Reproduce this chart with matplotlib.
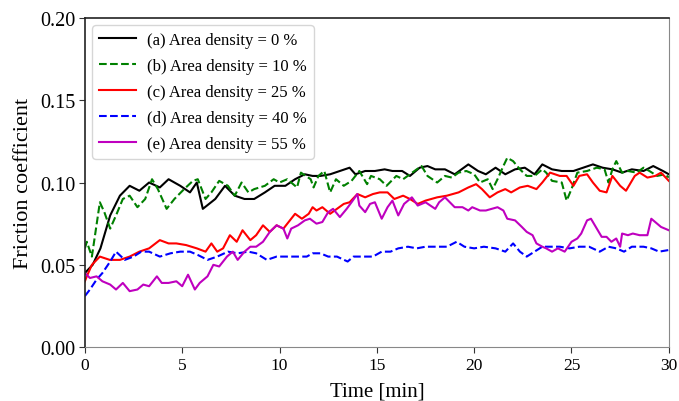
import matplotlib
matplotlib.use("Agg")
import matplotlib.pyplot as plt

# ── data (time [min], friction coefficient) ─────────────────────────────────
t_a = [0, 0.4, 0.8, 1.3, 1.8, 2.3, 2.8, 3.3, 3.85, 4.3, 4.9, 5.4, 5.75, 6.06,
       6.7, 7.2, 7.7, 8.2, 8.7, 9.25, 9.75, 10.3, 10.8, 11.3, 11.7, 12.1, 12.6,
       13.1, 13.6, 13.9, 14.4, 14.9, 15.4, 15.8, 16.3, 16.7, 17.2, 17.6, 18.0,
       18.5, 19.0, 19.7, 20.2, 20.6, 21.1, 21.6, 22.1, 22.6, 23.1, 23.5, 24.0,
       24.5, 25.1, 25.6, 26.1, 26.6, 27.1, 27.6, 28.1, 28.7, 29.2, 29.7, 30.0]
y_a = [0.045, 0.050, 0.060, 0.080, 0.092, 0.098, 0.095, 0.100, 0.097, 0.102,
       0.098, 0.094, 0.100, 0.084, 0.090, 0.098, 0.092, 0.090, 0.090, 0.094,
       0.098, 0.098, 0.102, 0.105, 0.104, 0.104, 0.105, 0.107, 0.109, 0.105,
       0.107, 0.107, 0.108, 0.107, 0.107, 0.104, 0.109, 0.110, 0.108, 0.108,
       0.105, 0.111, 0.107, 0.105, 0.109, 0.105, 0.108, 0.109, 0.105, 0.111,
       0.108, 0.107, 0.107, 0.109, 0.111, 0.109, 0.108, 0.106, 0.108, 0.107,
       0.110, 0.107, 0.105]

t_b = [0, 0.1, 0.36, 0.77, 1.0, 1.3, 1.6, 1.95, 2.3, 2.7, 3.1, 3.45, 3.75, 4.2,
       4.6, 5.1, 5.55, 5.8, 6.2, 6.5, 6.9, 7.35, 7.7, 8.05, 8.4, 8.7, 9.25, 9.7,
       10.0, 10.4, 10.9, 11.1, 11.6, 11.75, 12.0, 12.3, 12.6, 12.9, 13.3, 13.7,
       14.1, 14.5, 14.7, 15.15, 15.5, 16.0, 16.35, 16.7, 17.05, 17.3, 17.6,
       18.1, 18.5, 18.85, 19.2, 19.6, 20.0, 20.3, 20.7, 20.95, 21.2, 21.5, 21.7,
       22.0, 22.35, 22.7, 23.1, 23.5, 23.7, 24.0, 24.5, 24.75, 25.0, 25.3, 25.8,
       26.3, 26.7, 26.9, 27.1, 27.3, 27.6, 27.9, 28.35, 28.7, 29.0, 29.4, 29.8,
       30.0]
y_b = [0.060, 0.064, 0.055, 0.088, 0.082, 0.072, 0.080, 0.090, 0.092, 0.085,
       0.090, 0.102, 0.096, 0.084, 0.090, 0.096, 0.101, 0.102, 0.090, 0.094,
       0.101, 0.098, 0.092, 0.100, 0.094, 0.096, 0.098, 0.102, 0.100, 0.102,
       0.097, 0.106, 0.102, 0.097, 0.104, 0.107, 0.094, 0.102, 0.098, 0.101,
       0.107, 0.099, 0.104, 0.102, 0.098, 0.104, 0.102, 0.105, 0.108, 0.110,
       0.104, 0.100, 0.104, 0.103, 0.106, 0.107, 0.105, 0.100, 0.102, 0.096,
       0.102, 0.110, 0.115, 0.113, 0.108, 0.104, 0.104, 0.108, 0.106, 0.101,
       0.100, 0.089, 0.096, 0.106, 0.107, 0.109, 0.108, 0.100, 0.108, 0.113,
       0.106, 0.107, 0.106, 0.109, 0.107, 0.104, 0.105, 0.103]

t_c = [0, 0.1, 0.36, 0.77, 1.28, 1.8, 2.3, 2.8, 3.3, 3.85, 4.3, 4.7, 5.2, 5.75,
       6.2, 6.5, 6.8, 7.1, 7.45, 7.8, 8.1, 8.5, 8.8, 9.15, 9.5, 9.85, 10.2,
       10.4, 10.8, 11.15, 11.5, 11.7, 11.9, 12.2, 12.6, 12.95, 13.3, 13.6,
       14.0, 14.4, 14.8, 15.15, 15.55, 15.9, 16.35, 16.7, 17.1, 17.5, 18.1,
       18.6, 19.2, 19.7, 20.1, 20.4, 20.8, 21.2, 21.6, 21.9, 22.35, 22.75, 23.2,
       23.5, 23.9, 24.4, 24.75, 25.1, 25.4, 25.8, 26.1, 26.45, 26.8, 27.1, 27.5,
       27.8, 28.25, 28.5, 28.9, 29.3, 29.6, 30.0]
y_c = [0.040, 0.043, 0.050, 0.055, 0.053, 0.053, 0.055, 0.058, 0.060, 0.065,
       0.063, 0.063, 0.062, 0.060, 0.058, 0.063, 0.058, 0.060, 0.068, 0.064,
       0.071, 0.065, 0.068, 0.074, 0.070, 0.074, 0.072, 0.075, 0.081, 0.078,
       0.081, 0.085, 0.083, 0.085, 0.081, 0.084, 0.087, 0.088, 0.093, 0.091,
       0.093, 0.094, 0.094, 0.090, 0.092, 0.090, 0.087, 0.089, 0.091, 0.092,
       0.094, 0.097, 0.099, 0.096, 0.091, 0.094, 0.096, 0.094, 0.097, 0.098,
       0.096, 0.100, 0.106, 0.104, 0.104, 0.098, 0.104, 0.105, 0.100, 0.095,
       0.094, 0.104, 0.098, 0.095, 0.104, 0.106, 0.103, 0.104, 0.106, 0.101]

t_d = [0, 0.26, 0.6, 0.9, 1.3, 1.6, 2.05, 2.5, 2.9, 3.3, 3.85, 4.4, 4.9, 5.4,
       5.8, 6.3, 6.8, 7.35, 7.85, 8.4, 8.8, 9.35, 9.85, 10.4, 10.9, 11.4, 11.7,
       12.1, 12.5, 12.95, 13.5, 13.8, 14.3, 14.8, 15.25, 15.7, 16.1, 16.6,
       17.05, 17.5, 18.1, 18.6, 19.1, 19.5, 20.0, 20.5, 21.1, 21.6, 22.0, 22.35,
       22.7, 23.1, 23.5, 24.0, 24.4, 24.9, 25.4, 25.9, 26.45, 26.9, 27.3, 27.7,
       28.1, 28.7, 29.1, 29.5, 30.0]
y_d = [0.031, 0.035, 0.041, 0.045, 0.052, 0.058, 0.053, 0.055, 0.058, 0.058,
       0.055, 0.057, 0.058, 0.058, 0.056, 0.053, 0.055, 0.058, 0.057, 0.058,
       0.057, 0.053, 0.055, 0.055, 0.055, 0.055, 0.057, 0.057, 0.055, 0.055,
       0.052, 0.055, 0.055, 0.055, 0.058, 0.058, 0.060, 0.061, 0.060, 0.061,
       0.061, 0.061, 0.064, 0.061, 0.060, 0.061, 0.060, 0.058, 0.063, 0.058,
       0.055, 0.058, 0.061, 0.061, 0.061, 0.060, 0.061, 0.061, 0.058, 0.061,
       0.060, 0.058, 0.061, 0.061, 0.060, 0.058, 0.059]

t_e = [0, 0.26, 0.6, 0.9, 1.3, 1.6, 1.95, 2.3, 2.7, 3.0, 3.3, 3.7, 3.95, 4.3,
       4.7, 5.0, 5.3, 5.65, 5.9, 6.3, 6.6, 6.9, 7.3, 7.6, 7.85, 8.2, 8.5, 8.8,
       9.15, 9.5, 9.85, 10.2, 10.4, 10.6, 10.95, 11.3, 11.56, 11.9, 12.2, 12.5,
       12.75, 13.1, 13.45, 13.7, 14.0, 14.1, 14.4, 14.65, 14.9, 15.25, 15.55,
       15.8, 16.1, 16.4, 16.8, 17.1, 17.5, 18.0, 18.2, 18.5, 18.75, 19.0, 19.4,
       19.7, 19.9, 20.3, 20.6, 20.9, 21.2, 21.5, 21.7, 22.1, 22.45, 22.7, 23.0,
       23.2, 23.5, 23.7, 24.0, 24.3, 24.65, 25.0, 25.3, 25.5, 25.8, 26.0, 26.3,
       26.55, 26.8, 27.05, 27.3, 27.5, 27.6, 27.9, 28.15, 28.5, 28.9, 29.1,
       29.4, 29.6, 30.0]
y_e = [0.045, 0.042, 0.043, 0.040, 0.038, 0.035, 0.039, 0.034, 0.035, 0.038,
       0.037, 0.043, 0.039, 0.039, 0.040, 0.037, 0.044, 0.035, 0.039, 0.043,
       0.050, 0.049, 0.055, 0.058, 0.053, 0.058, 0.061, 0.061, 0.064, 0.070,
       0.074, 0.072, 0.066, 0.072, 0.074, 0.077, 0.078, 0.075, 0.076, 0.082,
       0.084, 0.079, 0.084, 0.088, 0.093, 0.086, 0.082, 0.087, 0.088, 0.078,
       0.085, 0.089, 0.080, 0.087, 0.091, 0.086, 0.088, 0.084, 0.088, 0.091,
       0.088, 0.085, 0.085, 0.083, 0.085, 0.083, 0.083, 0.084, 0.085, 0.083,
       0.078, 0.077, 0.073, 0.070, 0.068, 0.063, 0.061, 0.060, 0.058, 0.060,
       0.058, 0.064, 0.066, 0.069, 0.077, 0.078, 0.072, 0.067, 0.067, 0.064,
       0.066, 0.061, 0.069, 0.068, 0.069, 0.068, 0.068, 0.078, 0.075, 0.073,
       0.071]

labels = ["(a) Area density = 0 %", "(b) Area density = 10 %",
          "(c) Area density = 25 %", "(d) Area density = 40 %",
          "(e) Area density = 55 %"]
colors = ["black", "green", "red", "blue", "m"]
styles = ["-", "--", "-", "--", "-"]

x_ticks = [0, 5, 10, 15, 20, 25, 30]
y_ticks = [0.00, 0.05, 0.10, 0.15, 0.20]

# ── plot ────────────────────────────────────────────────────────────────────
plt.rcParams["font.family"] = ["Liberation Serif", "DejaVu Serif"]

fig = plt.figure(figsize=(6.79, 4.02), dpi=100)
ax = fig.add_axes([0.125, 0.134, 0.86, 0.819])

series = [(t_a, y_a), (t_b, y_b), (t_c, y_c), (t_d, y_d), (t_e, y_e)]
for (t, y), lab, c, ls in zip(series, labels, colors, styles):
    ax.plot(t, y, color=c, linestyle=ls, linewidth=1.5, label=lab)

ax.set_xlim(0, 30)
ax.set_ylim(0, 0.20)
ax.set_xticks(x_ticks)
ax.set_yticks(y_ticks)
ax.set_yticklabels([f"{v:.2f}" for v in y_ticks])
ax.tick_params(length=4, color="#333333")
ax.tick_params(axis="x", labelsize=12.5, pad=3)
ax.tick_params(axis="y", labelsize=14.5, pad=3)
ax.set_xlabel("Time [min]", fontsize=15, labelpad=6)
ax.set_ylabel("Friction coefficient", fontsize=16, labelpad=5)

for side in ["right", "bottom"]:
    ax.spines[side].set_color("#888888")
for side in ["left", "top"]:
    ax.spines[side].set_color("#222222")
    ax.spines[side].set_linewidth(1.2)

leg = ax.legend(loc="upper left", fontsize=12, handlelength=2.2,
                handletextpad=0.7, borderaxespad=0.45, labelspacing=0.6,
                framealpha=0.8)
leg.get_frame().set_edgecolor("#cccccc")

fig.savefig("out.png", dpi=100)
